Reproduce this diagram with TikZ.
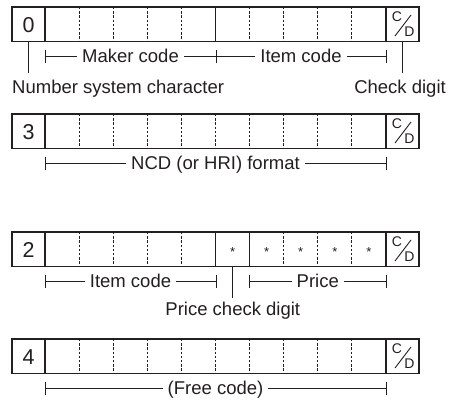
\documentclass[tikz,border=0pt]{standalone}
\usepackage{fontspec}
\setmainfont{Liberation Sans}
\definecolor{ink}{RGB}{35,31,32}
\newcommand\cx[1]{45+34.1*#1}
% #1 name, #2 top, #3 digit, #4 dashed indices, #5 extra solid indices
\newcommand\coderow[5]{%
  \node[frame] (#1) at (12,-#2) {};
  \draw[solidsep] (45,-#2) -- (45,-#2-34.5);
  \draw[solidsep] (386,-#2) -- (386,-#2-34.5);
  \foreach \i in {#4} {\draw[dashsep] ({\cx{\i}},-#2) -- ({\cx{\i}},-#2-34.5);}
  \foreach \i in {#5} {\draw[solidsep] ({\cx{\i}},-#2) -- ({\cx{\i}},-#2-34.5);}
  \draw[frameline] (12,-#2) rectangle (419,-#2-34.5);
  \node[digit] (#1d) at (28.5,-#2-25) {#3};
  \node[cdl] (#1c) at (397,-#2-10) {C};
  \node[cdl] (#1cd) at (409.5,-#2-24.5) {D};
  \coordinate (#1s1) at (395,-#2-29);
  \coordinate (#1s2) at (411,-#2-8);
  \draw[slash] (#1s1) -- (#1s2);
}
% tick at x, line y
\newcommand\dimtick[2]{\draw[dimline] (#1,#2+6.5) -- (#1,#2-6.5);}
\begin{document}
\begin{tikzpicture}[x=1pt,y=1pt,
  frame/.style={minimum width=407pt, minimum height=34.5pt, anchor=north west, inner sep=0pt},
  frameline/.style={draw=ink, line width=1.8pt},
  solidsep/.style={draw=ink, line width=1.2pt},
  dashsep/.style={draw=ink, line width=0.9pt, dash pattern=on 2.4pt off 1.8pt},
  dimline/.style={draw=ink, line width=0.9pt},
  slash/.style={draw=ink, line width=0.9pt},
  lbl/.style={font=\fontsize{18.5}{20}\selectfont, text=ink, inner sep=0pt},
  dimlbl/.style={lbl, fill=white, inner xsep=5pt, inner ysep=1pt, anchor=base},
  digit/.style={font=\fontsize{21.5}{22}\selectfont, text=ink, inner sep=0pt, anchor=base},
  cdl/.style={font=\fontsize{14}{14}\selectfont, text=ink, inner sep=0pt},
  star/.style={font=\fontsize{13}{13}\selectfont, text=ink, inner sep=0pt, anchor=base}]
\useasboundingbox (0,0) rectangle (460,-399);
\fill[white] (0,0) rectangle (460,-399);

% ---------- Row 1 ----------
\coderow{r1}{7}{0}{1,2,3,4,6,7,8,9}{5}
\coordinate (a1) at (45,-56);
\coordinate (b1) at (216,-56);
\coordinate (c1) at (386,-56);
\draw[dimline] (a1) -- (c1);
\dimtick{45}{-56}\dimtick{216}{-56}\dimtick{386}{-56}
\node[dimlbl] (mk) at (130.5,-62.6) {Maker code};
\node[dimlbl] (it1) at (301,-62.6) {Item code};
\coordinate (nsc1) at (28.5,-41.5);
\coordinate (nsc2) at (28.5,-73);
\draw[dimline] (nsc1) -- (nsc2);
\node[lbl, anchor=base west] (nsc) at (12,-93) {Number system character};
\coordinate (cd1) at (402.5,-41.5);
\coordinate (cd2) at (402.5,-73);
\draw[dimline] (cd1) -- (cd2);
\node[lbl, anchor=base east] (cdt) at (446,-93) {Check digit};

% ---------- Row 2 ----------
\coderow{r2}{114}{3}{1,2,3,4,5,6,7,8,9}{}
\coordinate (a2) at (45,-163);
\coordinate (c2) at (386,-163);
\draw[dimline] (a2) -- (c2);
\dimtick{45}{-163}\dimtick{386}{-163}
\node[dimlbl] (ncd) at (215.5,-169.6) {NCD (or HRI) format};

% ---------- Row 3 ----------
\coderow{r3}{232}{2}{1,2,3,4,7,8,9}{5,6}
\foreach \i in {5,...,9} {\node[star] at ({\cx{\i}+17.05},-256) {*};}
\coordinate (a3) at (45,-281);
\coordinate (b3) at (216,-281);
\coordinate (d3) at (249.6,-281);
\coordinate (c3) at (386,-281);
\draw[dimline] (a3) -- (b3);
\draw[dimline] (d3) -- (c3);
\dimtick{45}{-281}\dimtick{216}{-281}\dimtick{249.6}{-281}\dimtick{386}{-281}
\node[dimlbl] (it3) at (130.5,-287.6) {Item code};
\node[dimlbl] (pr) at (317.8,-287.6) {Price};
\coordinate (pc1) at (232.8,-266.5);
\coordinate (pc2) at (232.8,-298);
\draw[dimline] (pc1) -- (pc2);
\node[lbl, anchor=base] (pct) at (232.8,-315) {Price check digit};

% ---------- Row 4 ----------
\coderow{r4}{339}{4}{1,2,3,4,5,6,7,8,9}{}
\coordinate (a4) at (45,-388);
\coordinate (c4) at (386,-388);
\draw[dimline] (a4) -- (c4);
\dimtick{45}{-388}\dimtick{386}{-388}
\node[dimlbl] (fc) at (215.5,-394.6) {(Free code)};
\end{tikzpicture}
\end{document}
